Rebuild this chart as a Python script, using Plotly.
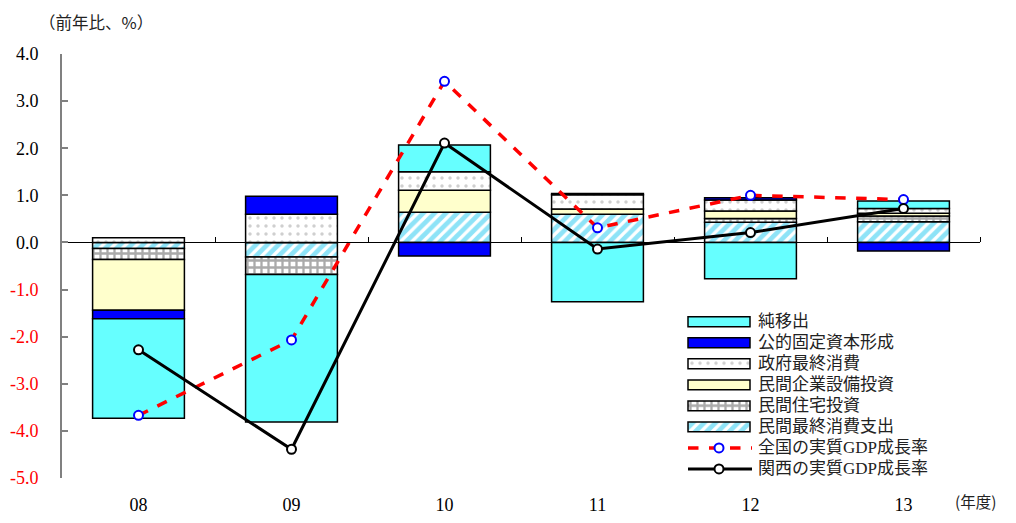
import plotly.graph_objects as go

years = ["08", "09", "10", "11", "12", "13"]

net_exports = [-2.11, -3.13, 0.57, -1.26, -0.77, 0.16]      # 純移出
public_inv = [-0.18, 0.38, -0.29, 0.03, 0.05, -0.18]        # 公的固定資本形成
gov_cons = [0.10, 0.60, 0.39, 0.30, 0.23, 0.10]             # 政府最終消費
capex = [-1.08, 0.0, 0.47, 0.11, 0.16, 0.06]                # 民間企業設備投資
housing = [-0.23, -0.37, 0.0, 0.0, 0.08, 0.12]              # 民間住宅投資
priv_cons = [-0.13, -0.31, 0.64, 0.60, 0.43, 0.44]          # 民間最終消費支出
gdp_japan = [-3.67, -2.07, 3.42, 0.31, 1.00, 0.91]          # 全国の実質GDP成長率
gdp_kansai = [-2.28, -4.39, 2.11, -0.14, 0.21, 0.72]        # 関西の実質GDP成長率

y_ticks = [4, 3, 2, 1, 0, -1, -2, -3, -4, -5]

SERIF = "Liberation Serif, Times New Roman, serif"
JP = "Liberation Serif, Noto Sans CJK JP, sans-serif"

STYLES = {
    "純移出": dict(color="#66FFFF"),
    "公的固定資本形成": dict(color="#0000FF"),
    "政府最終消費": dict(color="white", pattern=dict(shape=".", fgcolor="#A0A0A0", bgcolor="white",
                                                 size=8, solidity=0.15, fillmode="overlay")),
    "民間企業設備投資": dict(color="#FFFFCC"),
    "民間住宅投資": dict(color="white", pattern=dict(shape="+", fgcolor="#555555", bgcolor="white",
                                                size=7, solidity=0.55, fillmode="overlay")),
    "民間最終消費支出": dict(color="white", pattern=dict(shape="/", fgcolor="#1EC8F0", bgcolor="white",
                                                  size=8, solidity=0.6, fillmode="overlay")),
}
BAR_SERIES = [  # stacking order from zero outward
    ("民間最終消費支出", priv_cons),
    ("民間住宅投資", housing),
    ("民間企業設備投資", capex),
    ("政府最終消費", gov_cons),
    ("公的固定資本形成", public_inv),
    ("純移出", net_exports),
]
LEGEND_ORDER = ["純移出", "公的固定資本形成", "政府最終消費", "民間企業設備投資",
                "民間住宅投資", "民間最終消費支出", "全国の実質GDP成長率", "関西の実質GDP成長率"]
LINE_STYLES = {
    "全国の実質GDP成長率": dict(line=dict(color="#FF0000", width=3.5, dash="dash"),
                            marker=dict(symbol="circle", size=9, color="white",
                                        line=dict(color="#0000FF", width=2))),
    "関西の実質GDP成長率": dict(line=dict(color="black", width=3),
                            marker=dict(symbol="circle", size=9, color="white",
                                        line=dict(color="black", width=2))),
}

fig = go.Figure()

def marker_for(name):
    m = dict(STYLES[name])
    m["line"] = dict(color="black", width=1.5)
    return m

for name, vals in BAR_SERIES:
    fig.add_trace(go.Bar(x=years, y=vals, name=name, marker=marker_for(name),
                         width=0.6, showlegend=False))

for name, vals in [("全国の実質GDP成長率", gdp_japan), ("関西の実質GDP成長率", gdp_kansai)]:
    st = LINE_STYLES[name]
    fig.add_trace(go.Scatter(x=years, y=vals, name=name, mode="lines+markers",
                             line=st["line"], marker=st["marker"], showlegend=False))

# empty trace to activate the zero-line axis
fig.add_trace(go.Scatter(x=[None], y=[None], xaxis="x2", showlegend=False, hoverinfo="skip"))

# custom legend on its own small axes (swatch area 0..62, text from 77)
annotations = []
for i, name in enumerate(LEGEND_ORDER):
    if name in STYLES:
        fig.add_trace(go.Bar(x=[62], y=[i], base=[8], orientation="h", width=0.47,
                             marker=marker_for(name), xaxis="x3", yaxis="y3",
                             showlegend=False, hoverinfo="skip"))
    else:
        st = LINE_STYLES[name]
        fig.add_trace(go.Scatter(x=[8, 72], y=[i, i], mode="lines", line=st["line"],
                                 xaxis="x3", yaxis="y3", showlegend=False, hoverinfo="skip"))
        fig.add_trace(go.Scatter(x=[39], y=[i], mode="markers", marker=st["marker"],
                                 xaxis="x3", yaxis="y3", showlegend=False, hoverinfo="skip"))
    annotations.append(dict(text=name, xref="x3", yref="y3", x=76, y=i, xanchor="left",
                            yanchor="middle", showarrow=False,
                            font=dict(family=JP, size=17, color="#222222")))

ticktext = []
for v in y_ticks:
    s = f"{v:.1f}"
    ticktext.append(f'<span style="color:#FF0000">{s}</span>' if v < 0 else s)

annotations += [
    dict(text="（前年比、%）", xref="paper", yref="paper", x=-0.027, y=1.076,
         xanchor="left", yanchor="middle", showarrow=False,
         font=dict(family="Noto Sans CJK JP", size=16.5, color="#222222")),
    dict(text="(年度)", xref="paper", yref="paper", x=1.02, y=-0.054,
         xanchor="right", yanchor="middle", showarrow=False,
         font=dict(family="Noto Sans CJK JP", size=15.5, color="#222222")),
]

# page has an 8px body margin, so the figure is 16px smaller than the window
fig.update_layout(
    width=1000, height=507,
    margin=dict(l=54, r=28, t=46, b=37, autoexpand=False),
    paper_bgcolor="white", plot_bgcolor="rgba(0,0,0,0)",
    barmode="relative",
    showlegend=False,
    xaxis=dict(type="category", range=[-0.5, 5.5], showline=False, ticks="",
               showgrid=False, zeroline=False,
               tickfont=dict(family=SERIF, size=18, color="black"),
               ticklabelstandoff=14),
    xaxis2=dict(overlaying="x", anchor="free", position=5/9, side="top",
                range=[-0.5, 5.5], showline=True, linecolor="black", linewidth=1,
                tickvals=[0.5, 1.5, 2.5, 3.5, 4.5, 5.5], ticks="outside",
                ticklen=5, tickcolor="black", tickwidth=1,
                showticklabels=False, showgrid=False, zeroline=False),
    yaxis=dict(range=[-5, 4], tickvals=y_ticks, ticktext=ticktext,
               showline=True, linecolor="#808080", linewidth=2,
               ticks="inside", ticklen=6, tickcolor="#808080", tickwidth=2,
               showgrid=False, zeroline=False,
               tickfont=dict(family=SERIF, size=18, color="black"),
               ticklabelstandoff=18),
    xaxis3=dict(domain=[(680 - 62) / 918, 1.0], range=[0, 300], anchor="y3",
                visible=False, fixedrange=True),
    yaxis3=dict(domain=[0.0, (478 - 311.2) / 424], range=[7.43, -0.5], anchor="x3",
                visible=False, fixedrange=True),
    annotations=annotations,
)

fig.write_html("out.html")
